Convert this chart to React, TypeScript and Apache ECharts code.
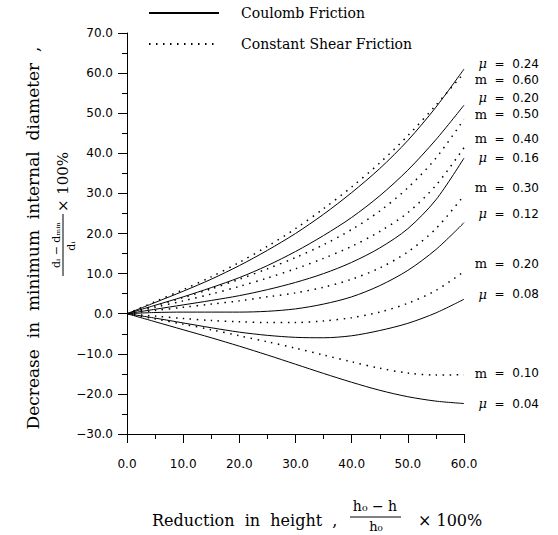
import React, { useEffect, useRef } from "react";
import * as echarts from "echarts";

// Reduction in height (%)
const reduction = [0, 5, 10, 15, 20, 25, 30, 35, 40, 45, 50, 55, 60];

// Coulomb friction (solid) curves
const mu024 = [0, 2.8, 5.6, 8.6, 12.0, 15.8, 20.0, 24.8, 30.2, 36.2, 43.2, 51.5, 61.0];
const mu020 = [0, 2.1, 4.2, 6.5, 9.0, 12.0, 15.5, 19.5, 24.0, 29.4, 35.8, 43.4, 52.0];
const mu016 = [0, 1.1, 2.2, 3.3, 4.5, 6.0, 7.8, 10.0, 12.8, 16.4, 21.2, 28.4, 38.8];
const mu012 = [0, 0.3, 0.4, 0.4, 0.4, 0.6, 1.2, 2.4, 4.2, 7.0, 10.8, 16.0, 22.7];
const mu008 = [0, -1.1, -2.3, -3.5, -4.6, -5.4, -5.9, -6.0, -5.5, -4.2, -2.4, 0.2, 3.6];
const mu004 = [0, -2.0, -4.0, -6.0, -8.1, -10.3, -12.6, -14.9, -17.1, -19.1, -20.7, -21.8, -22.4];

// Constant shear friction (dotted) curves
const m060 = [0, 3.0, 6.0, 9.2, 12.8, 16.8, 21.2, 26.2, 31.6, 37.6, 44.4, 52.0, 60.0];
const m050 = [0, 2.0, 4.0, 6.2, 8.6, 11.2, 14.0, 17.2, 21.0, 25.6, 31.4, 38.8, 48.5];
const m040 = [0, 1.6, 3.2, 4.9, 6.8, 8.9, 11.2, 13.8, 16.8, 20.5, 25.2, 32.0, 41.4];
const m030 = [0, 0.8, 1.6, 2.4, 3.2, 4.2, 5.2, 6.6, 8.6, 11.4, 15.4, 21.2, 29.5];
const m020 = [0, -0.6, -1.2, -1.7, -2.0, -2.2, -2.2, -1.8, -1.0, 0.4, 2.6, 5.8, 10.5];
const m010 = [0, -1.3, -2.6, -4.0, -5.5, -7.0, -8.6, -10.3, -12.0, -13.6, -14.8, -15.3, -15.2];

// Curve labels at the right and the value (in y units) at which each sits
const labelSymbols = ["μ", "m", "μ", "m", "m", "μ", "m", "μ", "m", "μ", "m", "μ"];
const labelValues = ["0.24", "0.60", "0.20", "0.50", "0.40", "0.16", "0.30", "0.12", "0.20", "0.08", "0.10", "0.04"];
const labelY = [62.3, 58.3, 53.8, 49.8, 43.6, 38.9, 31.4, 24.9, 12.5, 4.8, -14.8, -22.5];

const legendNames = ["Coulomb Friction", "Constant Shear Friction"];

const solidCurves = [mu024, mu020, mu016, mu012, mu008, mu004];
const dottedCurves = [m060, m050, m040, m030, m020, m010];

const SERIF = "'DejaVu Serif', serif";
const SANS = "'DejaVu Sans', sans-serif";

export default function App() {
  const ref = useRef<HTMLDivElement>(null);
  useEffect(() => {
    if (!ref.current) return;
    const chart = echarts.init(ref.current, null, { renderer: "svg" });
    const toData = (arr: number[]) => reduction.map((x, i) => [x, arr[i]]);
    const series: any[] = [];
    solidCurves.forEach((c) =>
      series.push({
        name: legendNames[0],
        type: "line",
        data: toData(c),
        smooth: 0.3,
        symbol: "none",
        lineStyle: { color: "#000", width: 1, type: "solid" },
        itemStyle: { color: "#000" },
      })
    );
    dottedCurves.forEach((c) =>
      series.push({
        name: legendNames[1],
        type: "line",
        data: toData(c),
        smooth: 0.3,
        symbol: "none",
        lineStyle: { color: "#000", width: 1.5, type: [1.5, 5.5] },
        itemStyle: { color: "#000" },
      })
    );
    const fmt = (v: number) => (v < 0 ? "−" + Math.abs(v).toFixed(1) : v.toFixed(1));
    chart.setOption({
      animation: false,
      textStyle: { color: "#000" },
      grid: { left: 127, right: 94, top: 33, bottom: 101, outerBoundsMode: "none" },
      legend: {
        data: legendNames,
        orient: "vertical",
        left: 148,
        top: 6,
        padding: 0,
        itemWidth: 70,
        itemHeight: 14,
        itemGap: 17,
        itemStyle: { opacity: 0 },
        textStyle: { fontFamily: SERIF, fontSize: 14, color: "#000", padding: [0, 0, 0, 17] },
      },
      xAxis: {
        type: "value",
        min: 0,
        max: 60,
        interval: 10,
        axisLine: { onZero: false, lineStyle: { color: "#000", width: 1 } },
        axisTick: { show: true, length: 9, lineStyle: { color: "#000" } },
        minorTick: { show: true, splitNumber: 2, length: 5, lineStyle: { color: "#000" } },
        splitLine: { show: false },
        axisLabel: { formatter: fmt, fontFamily: SANS, fontSize: 12, color: "#000", margin: 24 },
      },
      yAxis: {
        type: "value",
        min: -30,
        max: 70,
        interval: 10,
        axisLine: { show: true, onZero: false, lineStyle: { color: "#000", width: 1 } },
        axisTick: { show: true, length: 9, lineStyle: { color: "#000" } },
        minorTick: { show: true, splitNumber: 2, length: 5, lineStyle: { color: "#000" } },
        splitLine: { show: false },
        axisLabel: { formatter: fmt, fontFamily: SANS, fontSize: 12, color: "#000", margin: 14 },
      },
      series,
    });

    const labels = labelSymbols.map((s, i) => {
      const p = chart.convertToPixel({ gridIndex: 0 }, [60, labelY[i]]) as number[];
      return {
        type: "text",
        x: 539,
        y: p[1],
        style: {
          text: `{s|${s}}  =  ${labelValues[i]}`,
          align: "right",
          verticalAlign: "middle",
          fill: "#000",
          font: `12px ${SANS}`,
          rich: {
            s: s === "μ"
              ? { fontFamily: SERIF, fontStyle: "italic", fontSize: 13 }
              : { fontFamily: SERIF, fontSize: 13 },
          },
        },
      };
    });

    const titles: any[] = [
      // y-axis title
      {
        type: "text",
        x: 33,
        y: 238,
        rotation: Math.PI / 2,
        style: {
          text: "Decrease  in  minimum  internal  diameter  ,",
          align: "center",
          verticalAlign: "middle",
          fill: "#000",
          font: `17px ${SERIF}`,
        },
      },
      {
        type: "text",
        x: 56,
        y: 245,
        rotation: Math.PI / 2,
        style: { text: "dᵢ − dₘᵢₙ", align: "center", verticalAlign: "middle", fill: "#000", font: `11px ${SERIF}` },
      },
      { type: "line", shape: { x1: 63, y1: 214, x2: 63, y2: 276 }, style: { stroke: "#000", lineWidth: 1 } },
      {
        type: "text",
        x: 71,
        y: 246,
        rotation: Math.PI / 2,
        style: { text: "dᵢ", align: "center", verticalAlign: "middle", fill: "#000", font: `11px ${SERIF}` },
      },
      {
        type: "text",
        x: 63,
        y: 182,
        rotation: Math.PI / 2,
        style: { text: "× 100%", align: "center", verticalAlign: "middle", fill: "#000", font: `15px ${SERIF}` },
      },
      // x-axis title
      {
        type: "text",
        x: 152,
        y: 520,
        style: {
          text: "Reduction  in  height  ,",
          align: "left",
          verticalAlign: "middle",
          fill: "#000",
          font: `16px ${SERIF}`,
        },
      },
      {
        type: "text",
        x: 375,
        y: 506,
        style: { text: "h₀ − h", align: "center", verticalAlign: "middle", fill: "#000", font: `14px ${SERIF}` },
      },
      { type: "line", shape: { x1: 350, y1: 517, x2: 401, y2: 517 }, style: { stroke: "#000", lineWidth: 1 } },
      {
        type: "text",
        x: 376,
        y: 526,
        style: { text: "h₀", align: "center", verticalAlign: "middle", fill: "#000", font: `13px ${SERIF}` },
      },
      {
        type: "text",
        x: 418,
        y: 520,
        style: { text: "× 100%", align: "left", verticalAlign: "middle", fill: "#000", font: `16px ${SERIF}` },
      },
    ];

    chart.setOption({ graphic: [...labels, ...titles] });
    return () => chart.dispose();
  }, []);
  return (
    <div
      ref={ref}
      style={{ position: "fixed", left: 0, top: 0, width: 558, height: 535, background: "#fff" }}
    />
  );
}
